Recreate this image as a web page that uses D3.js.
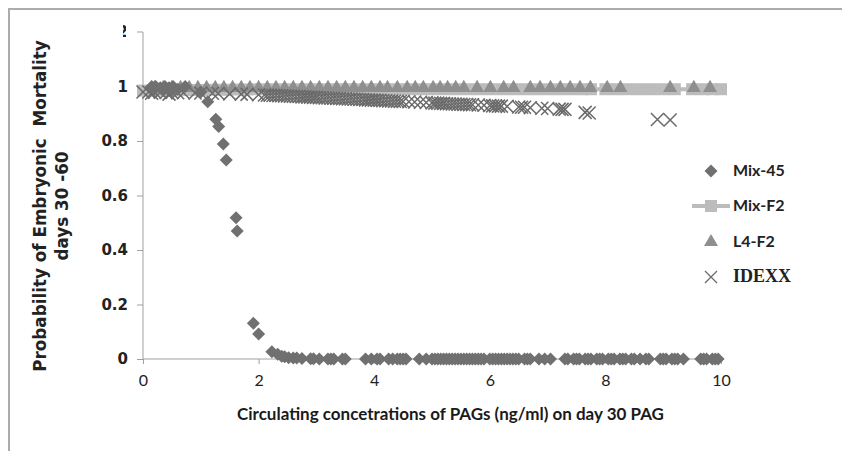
<!DOCTYPE html>
<html>
<head>
<meta charset="utf-8">
<script src="https://cdn.jsdelivr.net/npm/d3@7"></script>
<style>
  body { margin: 0; background: #fff; }
  svg { display: block; }
</style>
</head>
<body>
<svg width="842" height="451"></svg>
<script>
// series values [x, y]
var mix45 = [[0.15,1.0],[0.2,0.99],[0.22,1.0],[0.3,0.995],[0.35,0.985],[0.38,1.0],[0.45,0.995],[0.5,0.985],
  [0.52,1.0],[0.6,0.99],[0.73,1.0],
  [1.0,0.98],[1.12,0.944],[1.26,0.88],[1.31,0.853],[1.39,0.789],[1.44,0.73],[1.61,0.518],[1.63,0.47],
  [1.91,0.131],[2.0,0.092],[2.23,0.027],[2.33,0.017],[2.4,0.01],[2.45,0.008],[2.52,0.005],[2.6,0.004],
  [2.66,0.004],[2.75,0.002],[2.9,0.001],[2.95,0.001],[3.05,0],[3.2,0],[3.25,0],[3.3,0],[3.45,0],[3.5,0],
  [3.85,0],[3.95,0],[4.05,0],[4.1,0],[4.25,0],[4.32,0],[4.4,0],[4.45,0],[4.5,0],[4.55,0],[4.78,0],
  [4.9,0],[5.0,0],[5.05,0],[5.1,0],[5.15,0],[5.2,0],[5.25,0],[5.3,0],[5.35,0],[5.4,0],[5.45,0],[5.5,0],
  [5.55,0],[5.6,0],[5.65,0],[5.7,0],[5.75,0],[5.8,0],[5.85,0],[5.9,0],[6.0,0],[6.05,0],[6.1,0],[6.15,0],
  [6.2,0],[6.25,0],[6.3,0],[6.35,0],[6.4,0],[6.45,0],[6.5,0],[6.6,0],[6.65,0],[6.7,0],
  [6.85,0],[6.95,0],[7.05,0],[7.3,0],[7.35,0],[7.45,0],[7.5,0],[7.55,0],[7.65,0],[7.7,0],[7.75,0],
  [7.85,0],[7.9,0],[7.95,0],[8.05,0],[8.1,0],[8.15,0],[8.25,0],[8.3,0],[8.35,0],[8.45,0],[8.5,0],
  [8.6,0],[8.7,0],[8.75,0],[8.95,0],[9.0,0],[9.05,0],[9.15,0],[9.2,0],[9.25,0],[9.35,0],
  [9.65,0],[9.7,0],[9.75,0],[9.85,0],[9.9,0],[9.95,0]];

var mixF2 = [[0,0.985],[0.2,0.985],[0.4,0.986],[0.6,0.986],[0.8,0.987],[1.0,0.987],[1.2,0.988],[1.4,0.988],
  [1.6,0.989],[1.8,0.989],[2.0,0.99],[2.2,0.99],[2.4,0.99],[2.6,0.99],[2.8,0.99],[3.0,0.99],[3.2,0.99],
  [3.4,0.99],[3.6,0.99],[3.8,0.99],[4.0,0.99],[4.2,0.99],[4.4,0.99],[4.6,0.99],[4.8,0.99],[5.0,0.99],
  [5.2,0.99],[5.4,0.99],[5.6,0.99],[5.8,0.99],[6.0,0.99],[6.2,0.99],[6.4,0.99],[6.6,0.99],[6.8,0.99],
  [7.0,0.99],[7.2,0.99],[7.4,0.99],[7.6,0.99],[7.75,0.99],[8.0,0.99],[8.2,0.99],[8.4,0.99],[8.6,0.99],
  [8.8,0.99],[9.0,0.99],[9.2,0.99],[9.5,0.99],[9.7,0.99],[9.85,0.99],[10.0,0.99]];

var l4F2 = [[0.2,0.995],[0.35,0.995],[0.5,0.995],[0.65,0.995],[0.8,0.995],[0.95,0.995],[1.1,0.995],
  [1.25,0.995],[1.4,0.995],[1.55,0.995],[1.7,0.995],[1.85,0.995],[2.0,0.995],[2.15,0.995],[2.3,0.995],
  [2.45,0.995],[2.6,0.995],[2.75,0.995],[2.9,0.995],[3.05,0.995],[3.2,0.995],[3.35,0.995],[3.5,0.995],
  [3.65,0.995],[3.8,0.995],[3.95,0.995],[4.1,0.995],[4.23,0.995],[4.4,0.995],[4.57,0.995],[4.71,0.995],
  [4.85,0.995],[5.02,0.995],[5.14,0.995],[5.27,0.995],[5.41,0.995],[5.55,0.995],[5.78,0.995],[6.01,0.995],
  [6.24,0.995],[6.41,0.995],[6.7,0.995],[6.87,0.995],[7.05,0.995],[7.22,0.995],[7.39,0.995],[7.56,0.995],
  [7.74,0.995],[8.03,0.995],[8.26,0.995],[9.12,0.995],[9.53,0.995],[9.81,0.995]];

var idexx = [[0.0,0.98],[0.1,0.98],[0.15,0.975],[0.2,0.979],[0.3,0.979],[0.4,0.978],[0.45,0.972],[0.5,0.978],
  [0.6,0.977],[0.7,0.977],[0.9,0.976],[1.0,0.976],[1.2,0.975],[1.3,0.974],[1.5,0.973],[1.7,0.972],
  [1.8,0.971],[2.0,0.97],[2.1,0.969],[2.15,0.968],[2.2,0.968],[2.25,0.967],[2.3,0.967],[2.35,0.966],
  [2.4,0.966],[2.45,0.965],[2.5,0.965],[2.55,0.964],[2.6,0.964],[2.65,0.963],[2.7,0.963],[2.75,0.962],
  [2.8,0.962],[2.85,0.961],[2.9,0.961],[2.95,0.96],[3.0,0.96],[3.05,0.959],[3.1,0.959],[3.15,0.958],
  [3.2,0.958],[3.25,0.957],[3.3,0.957],[3.35,0.956],[3.4,0.956],[3.45,0.955],[3.5,0.955],[3.55,0.954],
  [3.6,0.954],[3.65,0.953],[3.7,0.953],[3.75,0.952],[3.8,0.952],[3.85,0.951],[3.9,0.951],[3.95,0.95],
  [4.0,0.95],[4.05,0.949],[4.1,0.949],[4.15,0.948],[4.2,0.948],[4.25,0.947],[4.3,0.947],[4.35,0.946],
  [4.4,0.946],[4.45,0.945],[4.5,0.945],[4.6,0.944],[4.7,0.943],[4.8,0.942],[4.9,0.941],[5.0,0.94],
  [5.05,0.939],[5.1,0.939],[5.15,0.938],[5.2,0.938],[5.25,0.937],[5.3,0.937],[5.35,0.936],[5.4,0.936],
  [5.45,0.935],[5.5,0.935],[5.55,0.934],[5.6,0.934],[5.65,0.933],[5.7,0.933],[5.8,0.932],[5.9,0.931],
  [6.0,0.93],[6.05,0.929],[6.1,0.929],[6.15,0.928],[6.2,0.928],[6.3,0.927],[6.5,0.925],[6.55,0.924],
  [6.6,0.924],[6.7,0.922],[6.9,0.92],[7.0,0.919],[7.2,0.917],[7.25,0.916],[7.3,0.916],[7.65,0.905],
  [7.72,0.903],[8.9,0.879],[9.12,0.877]];

var xTicks = [0, 2, 4, 6, 8, 10];
var yTicks = [0, 0.2, 0.4, 0.6, 0.8, 1, 1.2];
var legendNames = ["Mix-45", "Mix-F2", "L4-F2", "IDEXX"];

var svg = d3.select("svg");

// outer frame (only top and left edges show)
svg.append("path")
  .attr("d", "M9,452 V9 H842")
  .attr("fill", "none")
  .attr("stroke", "#acacac")
  .attr("stroke-width", 2);

var x = d3.scaleLinear().domain([0, 10]).range([143, 721]);
var y = d3.scaleLinear().domain([0, 1.2]).range([359, 32]);

// axes
var xAxis = svg.append("g")
  .attr("transform", "translate(0," + y(0) + ")")
  .call(d3.axisBottom(x).tickValues(xTicks).tickSize(5).tickPadding(11).tickFormat(d3.format("d")));
xAxis.selectAll("text")
  .attr("font-family", "Lato, sans-serif")
  .attr("font-size", 16)
  .attr("fill", "#222");

var yAxis = svg.append("g")
  .attr("transform", "translate(" + x(0) + ",0)")
  .call(d3.axisLeft(y).tickValues(yTicks.slice(0, 6)).tickSize(6).tickPadding(9)
    .tickFormat(function(d){ return d === 1 ? "1" : (d === 0 ? "0" : d3.format(".1f")(d)); }));
yAxis.selectAll("text")
  .attr("font-family", "DejaVu Sans, sans-serif")
  .attr("font-weight", "bold")
  .attr("font-size", 15)
  .attr("fill", "#222");

[xAxis, yAxis].forEach(function(a) {
  a.select(".domain").attr("stroke", "#a0a0a0");
  a.selectAll(".tick line").attr("stroke", "#a0a0a0");
});
yAxis.select(".domain").attr("d", "M-6," + y(1.2) + "H0V" + y(0));
xAxis.select(".domain").attr("d", "M" + x(0) + ",0H" + x(10));

// top label is almost entirely cut off in the original; show only a sliver
svg.append("clipPath").attr("id", "topclip")
  .append("rect").attr("x", 123).attr("y", 24).attr("width", 3).attr("height", 14);
svg.append("text")
  .attr("clip-path", "url(#topclip)")
  .attr("x", x(0) - 15).attr("y", y(1.2) + 5)
  .attr("text-anchor", "end")
  .attr("font-family", "DejaVu Sans, sans-serif")
  .attr("font-weight", "bold")
  .attr("font-size", 15)
  .attr("fill", "#222")
  .text(d3.format(".1f")(yTicks[6]));

// Mix-F2 line + squares
svg.append("path")
  .datum(mixF2)
  .attr("d", d3.line().x(function(d){ return x(d[0]); }).y(function(d){ return y(d[1]); }))
  .attr("fill", "none")
  .attr("stroke", "#bcbcbc")
  .attr("stroke-width", 4);
svg.selectAll(".sq")
  .data(mixF2).enter().append("rect")
  .attr("x", function(d){ return x(d[0]) - 6; })
  .attr("y", function(d){ return y(d[1]) - 6; })
  .attr("width", 12).attr("height", 12)
  .attr("fill", "#bcbcbc");

// L4-F2 triangles
var tri = d3.symbol().type(d3.symbolTriangle).size(85);
svg.selectAll(".tri")
  .data(l4F2).enter().append("path")
  .attr("d", tri)
  .attr("transform", function(d){ return "translate(" + x(d[0]) + "," + y(d[1]) + ")"; })
  .attr("fill", "#8f8f8f");

// IDEXX crosses
function cross(s) {
  return "M" + (-s) + "," + (-s) + "L" + s + "," + s + "M" + (-s) + "," + s + "L" + s + "," + (-s);
}
svg.selectAll(".xx")
  .data(idexx).enter().append("path")
  .attr("d", cross(6.5))
  .attr("transform", function(d){ return "translate(" + x(d[0]) + "," + y(d[1]) + ")"; })
  .attr("fill", "none")
  .attr("stroke", "#6a6a6a")
  .attr("stroke-width", 1.5);

// Mix-45 diamonds
function diamond(s) {
  return "M0," + (-s) + "L" + s + ",0L0," + s + "L" + (-s) + ",0Z";
}
svg.selectAll(".dm")
  .data(mix45).enter().append("path")
  .attr("d", diamond(6.5))
  .attr("transform", function(d){ return "translate(" + x(d[0]) + "," + y(d[1]) + ")"; })
  .attr("fill", "#707070");

// axis titles
svg.append("text")
  .attr("x", 237).attr("y", 420)
  .attr("font-family", "Lato, sans-serif")
  .attr("font-weight", "bold")
  .attr("font-size", 17)
  .attr("fill", "#1a1a1a")
  .text("Circulating concetrations of PAGs (ng/ml) on day 30 PAG");

var yt = svg.append("text")
  .attr("transform", "translate(46,206) rotate(-90)")
  .attr("text-anchor", "middle")
  .attr("font-family", "DejaVu Sans, sans-serif")
  .attr("font-weight", "bold")
  .attr("font-size", 16.8)
  .attr("fill", "#222");
yt.append("tspan").attr("x", 0).attr("dy", 0).style("white-space", "pre")
  .text("Probability of Embryonic  Mortality");
yt.append("tspan").attr("x", 0).attr("dy", 22).text("days 30 -60");

// legend
var leg = svg.append("g");
var legY = [171, 206, 242, 277];
leg.append("path").attr("d", diamond(6.5))
  .attr("transform", "translate(711," + legY[0] + ")").attr("fill", "#707070");
leg.append("line").attr("x1", 692).attr("x2", 730).attr("y1", legY[1]).attr("y2", legY[1])
  .attr("stroke", "#bcbcbc").attr("stroke-width", 4);
leg.append("rect").attr("x", 705).attr("y", legY[1] - 6).attr("width", 12).attr("height", 12)
  .attr("fill", "#bcbcbc");
leg.append("path").attr("d", tri)
  .attr("transform", "translate(711," + legY[2] + ")").attr("fill", "#8f8f8f");
leg.append("path").attr("d", cross(6))
  .attr("transform", "translate(711," + legY[3] + ")")
  .attr("fill", "none").attr("stroke", "#6a6a6a").attr("stroke-width", 1.3);

leg.selectAll(".lt")
  .data(legendNames).enter().append("text")
  .attr("x", 733)
  .attr("y", function(d, i){ return legY[i] + 5; })
  .attr("font-family", function(d){ return d === "IDEXX" ? "Liberation Serif, serif" : "Lato, sans-serif"; })
  .attr("font-weight", "bold")
  .attr("font-size", function(d){ return d === "IDEXX" ? 18 : 16; })
  .attr("fill", "#222")
  .text(function(d){ return d; });
</script>
</body>
</html>
